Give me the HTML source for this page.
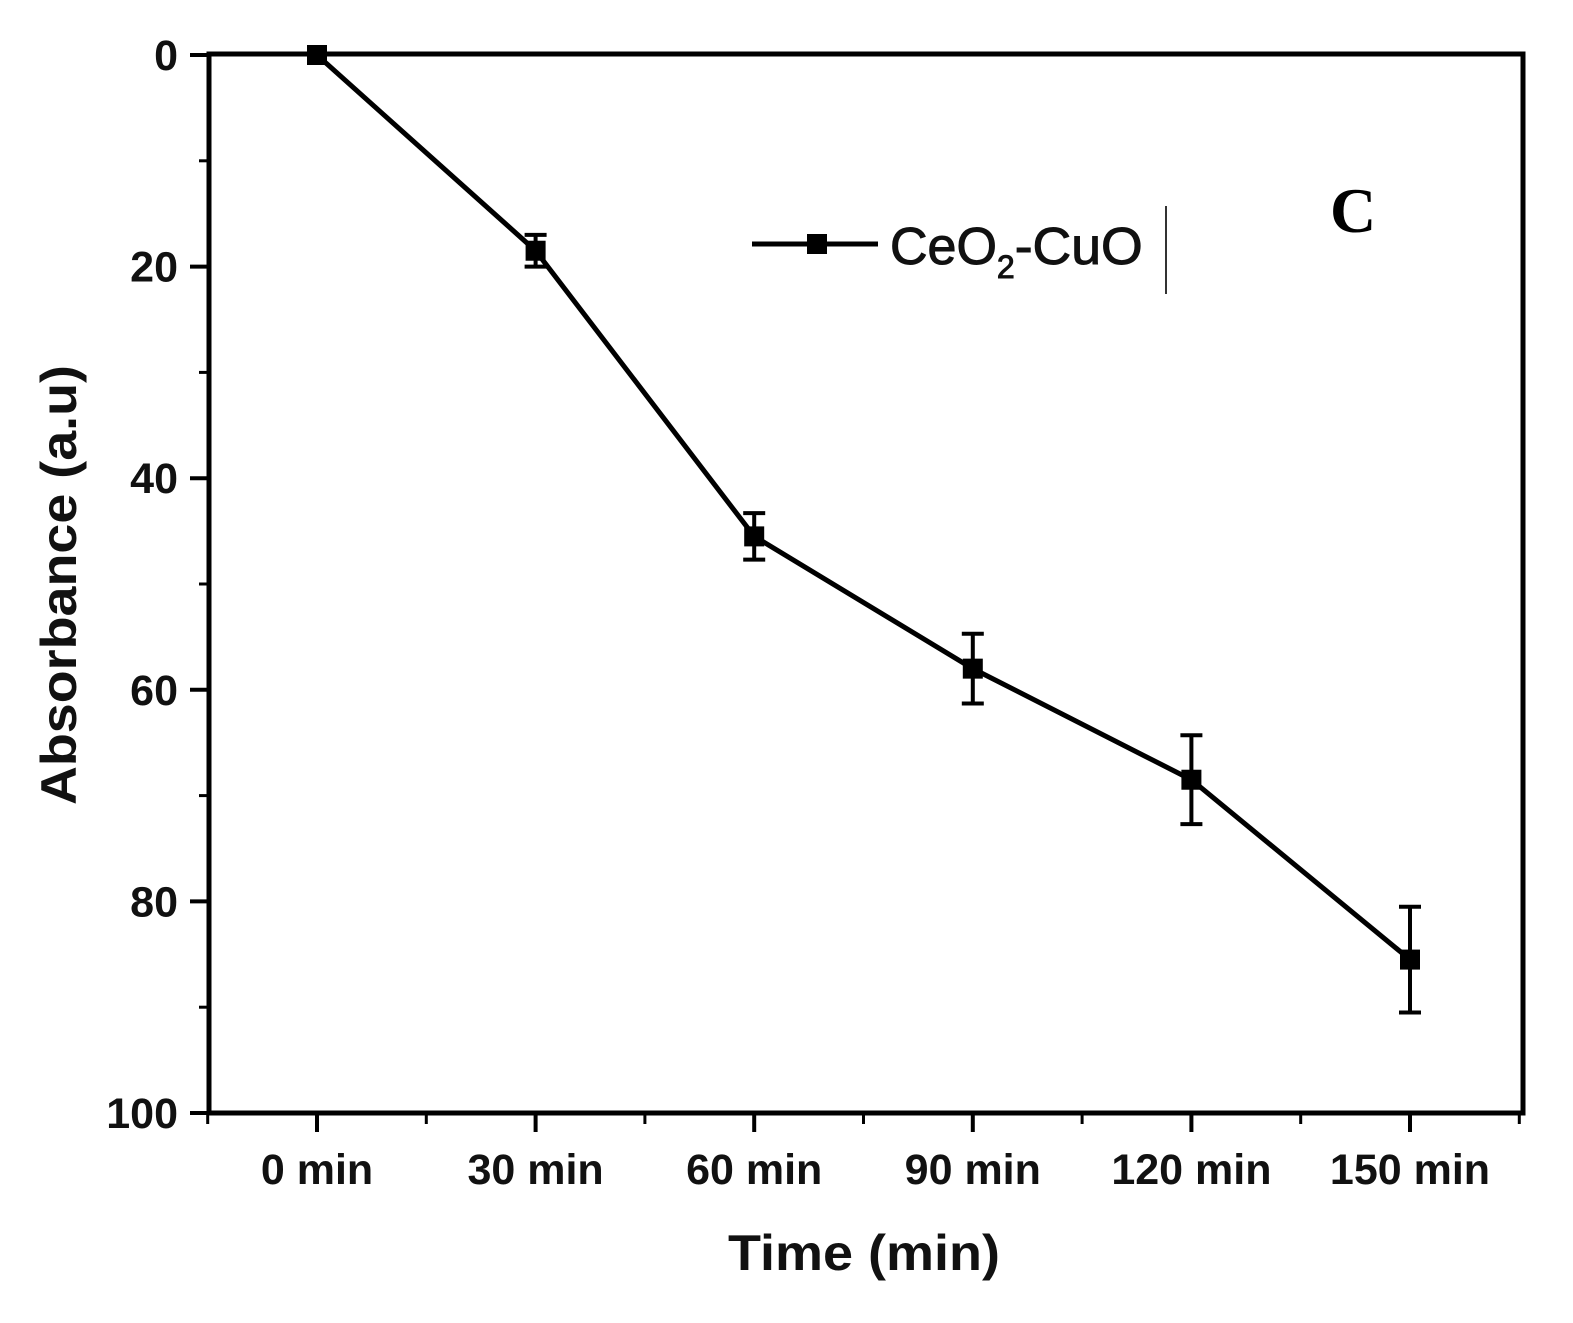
<!DOCTYPE html>
<html><head><meta charset="utf-8"><style>
html,body{margin:0;padding:0;background:#fff;}
svg{display:block;font-family:"Liberation Sans",Arial,sans-serif;}
</style></head><body>
<svg id="chart" width="1573" height="1323" viewBox="0 0 1573 1323" xmlns="http://www.w3.org/2000/svg">
<rect x="0" y="0" width="1573" height="1323" fill="#fff"/>
<rect x="209" y="54" width="1314" height="1059" fill="none" stroke="#000" stroke-width="5"/>
<g id="axes"></g>
<g id="series"></g>
<text transform="translate(76,585) rotate(-90)" text-anchor="middle" font-size="50" font-weight="bold" fill="#111" textLength="440" lengthAdjust="spacingAndGlyphs">Absorbance (a.u)</text>
<text x="864" y="1270" text-anchor="middle" font-size="50" font-weight="bold" fill="#111" textLength="272" lengthAdjust="spacingAndGlyphs">Time (min)</text>
<g>
<line x1="752" y1="244" x2="878" y2="244" stroke="#000" stroke-width="5"/>
<rect x="807" y="234" width="20" height="20" fill="#000"/>
<text x="890" y="264" font-size="52" fill="#111" stroke="#111" stroke-width="1">CeO<tspan font-size="32" dy="14">2</tspan><tspan dy="-14" textLength="128" lengthAdjust="spacingAndGlyphs">-CuO</tspan></text>
<line x1="1166" y1="206" x2="1166" y2="294" stroke="#333" stroke-width="2"/>
</g>
<text x="1330" y="232" font-size="64" font-weight="bold" font-family="'Liberation Serif',serif" fill="#000">C</text>
</svg>
<script>
const categories = ["0 min","30 min","60 min","90 min","120 min","150 min"];
const values = [0, 18.5, 45.5, 58, 68.5, 85.5];
const errors = [0, 1.5, 2.2, 3.3, 4.2, 5];
const yTicks = [0, 20, 40, 60, 80, 100];

const NS = "http://www.w3.org/2000/svg";
const x0 = 317, dx = 218.6;
function xs(i){ return x0 + i*dx; }
function ys(v){ return 55 + v*10.58; }
function mk(tag, attrs, parent){
  const e = document.createElementNS(NS, tag);
  for (const k in attrs) e.setAttribute(k, attrs[k]);
  parent.appendChild(e); return e;
}
const axes = document.getElementById('axes');
const series = document.getElementById('series');
yTicks.forEach(t => {
  const l = mk('line',{x1:190,x2:209,y1:ys(t),y2:ys(t),stroke:'#000','stroke-width':4},axes);
  
  
  const tx = mk('text',{x:178,y:ys(t)+15,'text-anchor':'end','font-size':43,'font-weight':'bold',fill:'#111'},axes);
  tx.textContent = t;
  
  
});
for (let i=0;i<yTicks.length-1;i++){
  const m = (yTicks[i]+yTicks[i+1])/2;
  const l = mk('line',{x1:199,x2:209,y1:ys(m),y2:ys(m),stroke:'#000','stroke-width':3},axes);
  
  
}
categories.forEach((c,i) => {
  const l = mk('line',{x1:xs(i),x2:xs(i),y1:1113,y2:1132,stroke:'#000','stroke-width':4},axes);
  
  
  const tx = mk('text',{x:xs(i),y:1184,'text-anchor':'middle','font-size':43,'font-weight':'bold',fill:'#111'},axes);
  tx.textContent = c;
  
  
});
for (let i=-0.5;i<categories.length;i+=1){
  const l = mk('line',{x1:xs(i),x2:xs(i),y1:1113,y2:1124,stroke:'#000','stroke-width':3},axes);
  
  
}
const pts = values.map((v,i)=>xs(i)+','+ys(v)).join(' ');
const line = mk('polyline',{points:pts,fill:'none',stroke:'#000','stroke-width':5},series);


values.forEach((v,i)=>{
  const e = errors[i];
  if (e>0){
    const g = mk('path',{d:`M${xs(i)},${ys(v-e)}V${ys(v+e)}M${xs(i)-11},${ys(v-e)}H${xs(i)+11}M${xs(i)-11},${ys(v+e)}H${xs(i)+11}`,stroke:'#000','stroke-width':4,fill:'none'},series);
    
    
  }
  const r = mk('rect',{x:xs(i)-10,y:ys(v)-10,width:20,height:20,fill:'#000'},series);
  
  
});
</script>
</body></html>
